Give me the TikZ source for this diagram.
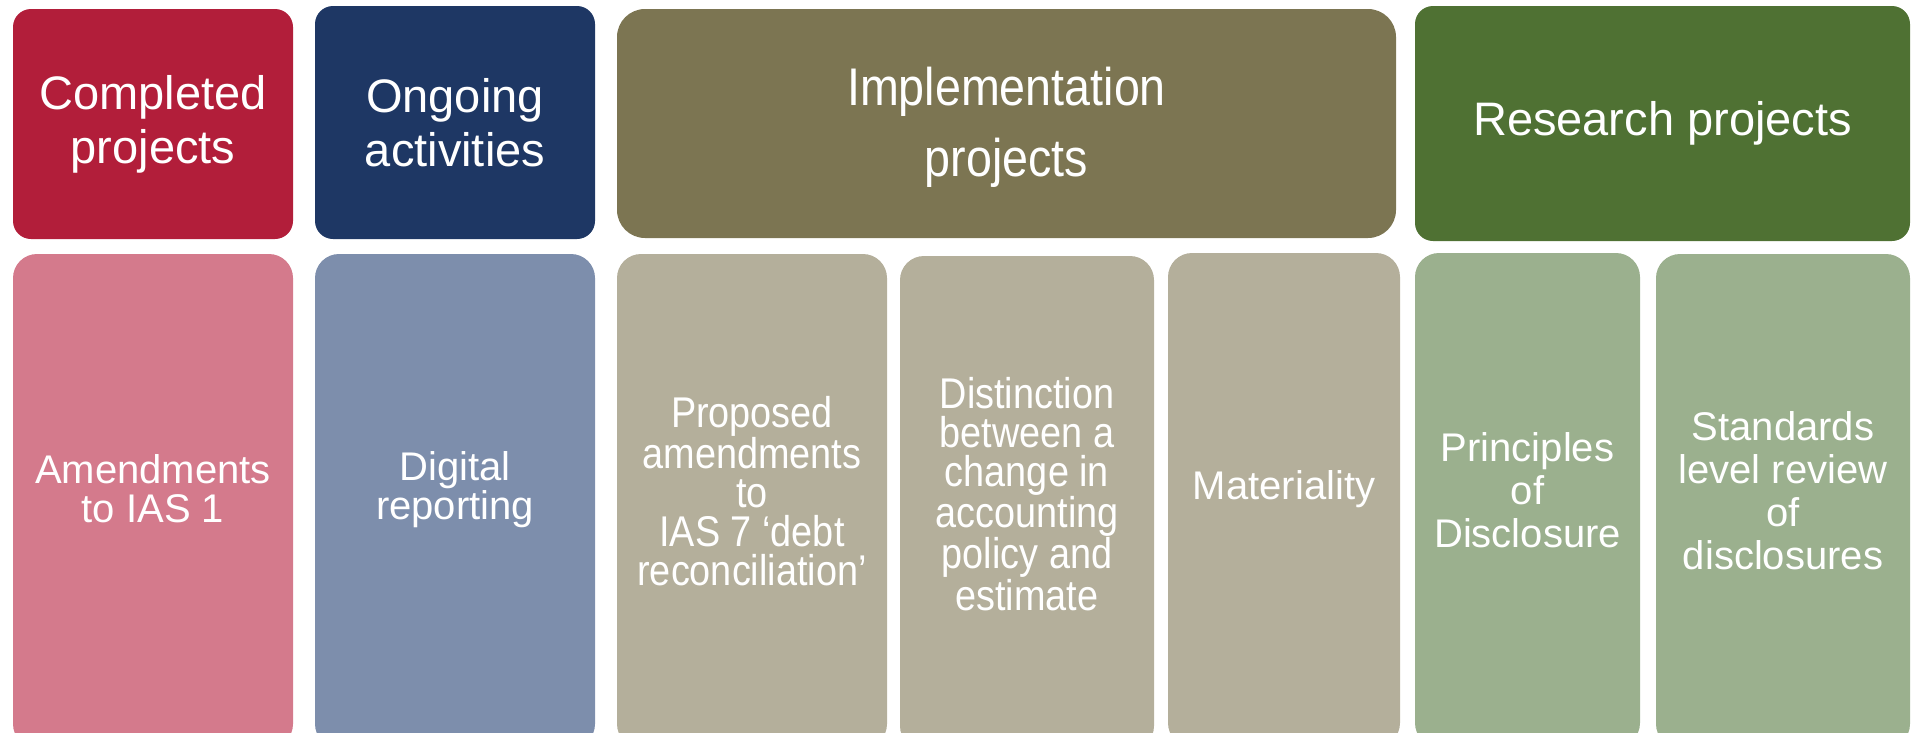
\documentclass[tikz,border=0pt]{standalone}
\usepackage{fontspec}
\setmainfont{Liberation Sans}
\newfontfamily\narrowsans[FakeStretch=0.88]{Liberation Sans}
\definecolor{cRed}{RGB}{178,30,58}
\definecolor{cNavy}{RGB}{30,55,100}
\definecolor{cOlive}{RGB}{124,117,82}
\definecolor{cGreen}{RGB}{79,113,51}
\definecolor{cPink}{RGB}{212,122,140}
\definecolor{cSteel}{RGB}{125,142,172}
\definecolor{cTan}{RGB}{180,175,155}
\definecolor{cSage}{RGB}{155,176,142}
\begin{document}
\begin{tikzpicture}[x=1pt,y=-1pt,
  hdr/.style={draw=none, rounded corners=18pt, inner sep=0pt, text=white, align=center,
    font=\fontsize{47}{54}\selectfont},
  itembox/.style={draw=none, rounded corners=24pt, inner sep=0pt, minimum height=494pt},
  itemtext/.style={inner sep=0pt, text=white, align=center, font=\fontsize{40}{39}\selectfont},
  narrowtext/.style={font=\narrowsans\fontsize{43}{39}\selectfont}
]
\useasboundingbox (0,0) rectangle (1912,732);
% header row
\node[hdr, fill=cRed, minimum width=280pt, minimum height=230pt] (c1) at (153,124) {Completed\\projects};
\node[hdr, fill=cNavy, minimum width=280pt, minimum height=233pt] (c2) at (455,122.5) {Ongoing\\activities};
\node[hdr, fill=cOlive, rounded corners=28pt, minimum width=779pt, minimum height=229pt] (c3) at (1006.5,123.5) {};
\node[inner sep=0pt, text=white, align=center, font=\narrowsans\fontsize{53}{71}\selectfont] (c3t) at (1006.5,127.5) {Implementation\\projects};
\node[hdr, fill=cGreen, minimum width=495pt, minimum height=235pt] (c4) at (1662.5,123.5) {Research projects};
% item row boxes (run past the lower edge)
\node[itembox, fill=cPink, minimum width=280pt] (b1) at (153,501) {};
\node[itembox, fill=cSteel, minimum width=280pt] (b2) at (455,501) {};
\node[itembox, fill=cTan, minimum width=270pt] (b3) at (752,501) {};
\node[itembox, fill=cTan, minimum width=254pt] (b4) at (1027,503) {};
\node[itembox, fill=cTan, minimum width=232pt] (b5) at (1284,500) {};
\node[itembox, fill=cSage, minimum width=225pt] (b6) at (1527.5,500) {};
\node[itembox, fill=cSage, minimum width=254pt] (b7) at (1783,501) {};
% item texts
\node[itemtext] (t1) at (b1.center |- 0,489) {Amendments\\to IAS 1};
\node[itemtext] (t2) at (b2.center |- 0,490) {Digital\\reporting};
\node[itemtext, narrowtext] (t3) at (b3.center |- 0,491)
  {Proposed\\amendments\\to\\IAS 7 ‘debt\\reconciliation’};
\node[itemtext, narrowtext] (t4) at (b4.center |- 0,494)
  {Distinction\\between a\\change in\\accounting\\policy and\\estimate};
\node[itemtext] (t5) at (b5.center |- 0,489) {Materiality};
\node[itemtext, font=\fontsize{40}{43}\selectfont] (t6) at (b6.center |- 0,490) {Principles\\of\\Disclosure};
\node[itemtext, font=\fontsize{40}{43}\selectfont] (t7) at (b7.center |- 0,491) {Standards\\level review\\of\\disclosures};
\end{tikzpicture}
\end{document}
